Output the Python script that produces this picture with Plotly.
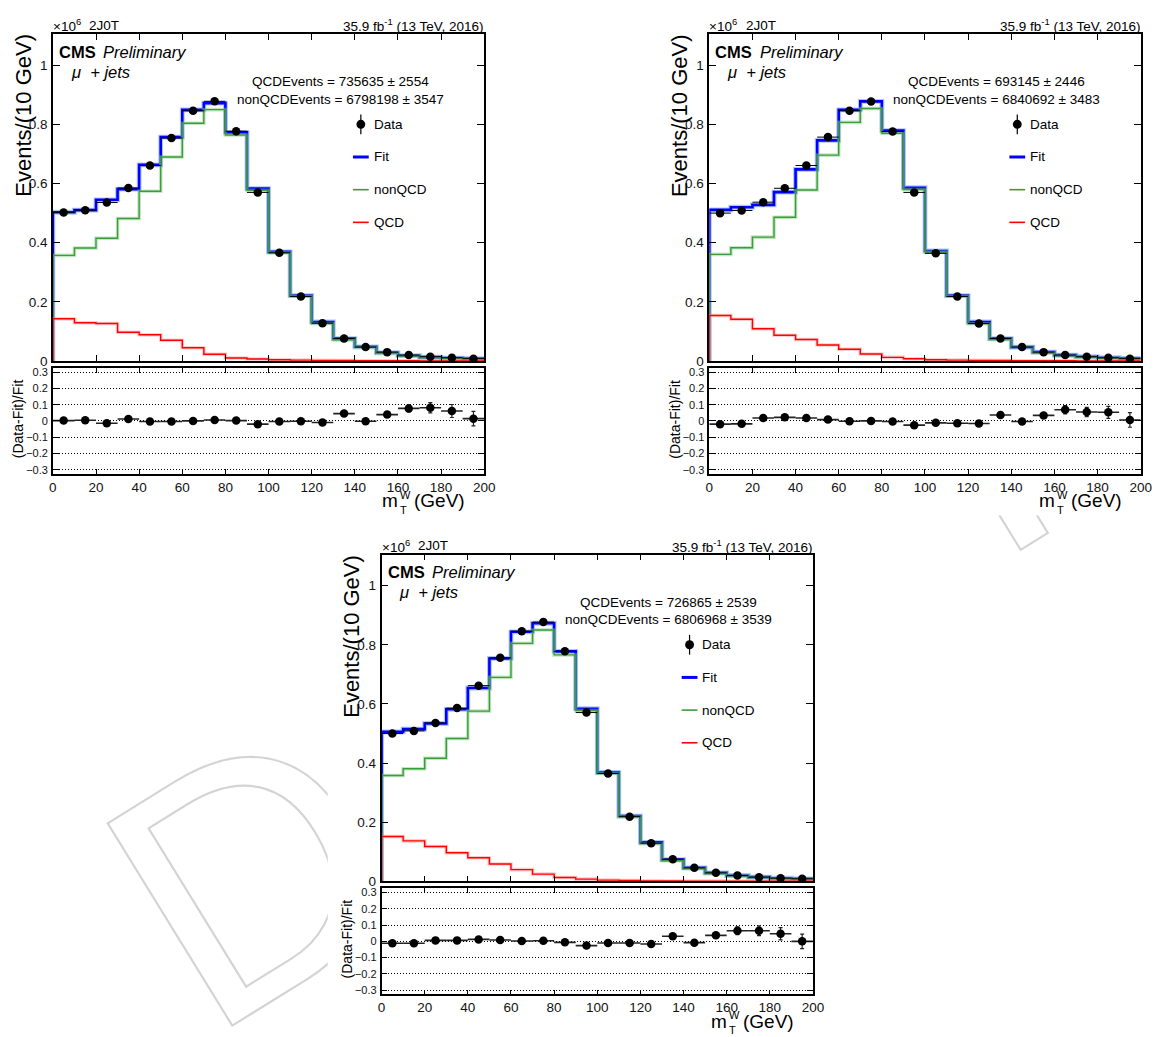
import base64
import plotly.graph_objects as go

# ---------------- data ----------------
bin_edges = [0, 10, 20, 30, 40, 50, 60, 70, 80, 90, 100, 110, 120, 130, 140, 150, 160, 170, 180, 190, 200]
bin_centers = [5, 15, 25, 35, 45, 55, 65, 75, 85, 95, 105, 115, 125, 135, 145, 155, 165, 175, 185, 195]
bin_halfwidth = [5] * 20

y_tickvals = [0, 0.2, 0.4, 0.6, 0.8, 1.0]
y_ticktext = ["0", "0.2", "0.4", "0.6", "0.8", "1"]
r_tickvals = [-0.3, -0.2, -0.1, 0, 0.1, 0.2, 0.3]
r_ticktext = ["\u22120.3", "\u22120.2", "\u22120.1", "0", "0.1", "0.2", "0.3"]
x_tickvals = [0, 20, 40, 60, 80, 100, 120, 140, 160, 180, 200]

# panel 1 (top left)
fit1 = [0.503, 0.510, 0.545, 0.581, 0.663, 0.757, 0.849, 0.872, 0.773, 0.583, 0.369, 0.221, 0.132, 0.076, 0.048, 0.028, 0.018, 0.013, 0.010, 0.008]
nonqcd1 = [0.357, 0.382, 0.415, 0.482, 0.574, 0.690, 0.804, 0.850, 0.764, 0.577, 0.366, 0.219, 0.127, 0.0715, 0.046, 0.026, 0.017, 0.012, 0.009, 0.0067]
qcd1 = [0.143, 0.1295, 0.127, 0.097, 0.089, 0.070, 0.045, 0.023, 0.010, 0.0067, 0.0045, 0.003, 0.002, 0.0015, 0.001, 0.001, 0.0008, 0.0006, 0.0005, 0.0004]
data1 = [0.5025, 0.510, 0.536, 0.585, 0.661, 0.754, 0.846, 0.878, 0.777, 0.570, 0.366, 0.218, 0.128, 0.076, 0.047, 0.030, 0.020, 0.0145, 0.011, 0.008]
ratio1 = [0.002, 0.004, -0.014, 0.012, -0.004, -0.004, 0.0, 0.006, 0.002, -0.020, -0.004, -0.002, -0.010, 0.045, -0.002, 0.039, 0.077, 0.081, 0.061, 0.014]
ratio_err1 = [0.004, 0.004, 0.004, 0.004, 0.004, 0.004, 0.004, 0.004, 0.004, 0.005, 0.006, 0.006, 0.007, 0.010, 0.010, 0.014, 0.022, 0.032, 0.040, 0.045]

# panel 2 (top right)
fit2 = [0.511, 0.520, 0.528, 0.571, 0.648, 0.746, 0.849, 0.878, 0.779, 0.586, 0.372, 0.221, 0.132, 0.076, 0.047, 0.030, 0.020, 0.0145, 0.011, 0.009]
nonqcd2 = [0.3607, 0.383, 0.419, 0.486, 0.578, 0.696, 0.807, 0.854, 0.770, 0.580, 0.3685, 0.219, 0.126, 0.0726, 0.046, 0.028, 0.018, 0.013, 0.010, 0.008]
qcd2 = [0.154, 0.141, 0.109, 0.087, 0.0726, 0.054, 0.040, 0.0235, 0.0123, 0.0078, 0.0045, 0.003, 0.002, 0.0015, 0.001, 0.001, 0.0008, 0.0006, 0.0005, 0.0004]
data2 = [0.500, 0.509, 0.537, 0.584, 0.661, 0.757, 0.846, 0.877, 0.776, 0.570, 0.364, 0.218, 0.127, 0.076, 0.047, 0.030, 0.020, 0.0145, 0.011, 0.008]
ratio2 = [-0.020, -0.018, 0.018, 0.022, 0.018, 0.008, -0.002, 0.0, -0.004, -0.026, -0.012, -0.014, -0.016, 0.036, -0.004, 0.034, 0.069, 0.055, 0.053, 0.006]
ratio_err2 = [0.004, 0.004, 0.004, 0.004, 0.004, 0.004, 0.004, 0.004, 0.004, 0.005, 0.006, 0.006, 0.007, 0.010, 0.010, 0.015, 0.026, 0.028, 0.037, 0.045]

# panel 3 (bottom centre)
fit3 = [0.506, 0.515, 0.534, 0.582, 0.654, 0.754, 0.844, 0.873, 0.778, 0.584, 0.3685, 0.221, 0.132, 0.0737, 0.046, 0.029, 0.020, 0.0145, 0.011, 0.009]
nonqcd3 = [0.358, 0.381, 0.4165, 0.4835, 0.576, 0.690, 0.805, 0.850, 0.766, 0.578, 0.365, 0.219, 0.128, 0.070, 0.0435, 0.027, 0.019, 0.0134, 0.010, 0.008]
qcd3 = [0.152, 0.137, 0.118, 0.097, 0.080, 0.059, 0.040, 0.0246, 0.0134, 0.0078, 0.0045, 0.003, 0.002, 0.0015, 0.001, 0.001, 0.0008, 0.0006, 0.0005, 0.0004]
data3 = [0.500, 0.509, 0.536, 0.586, 0.662, 0.756, 0.846, 0.877, 0.778, 0.571, 0.365, 0.219, 0.1295, 0.075, 0.046, 0.029, 0.020, 0.0145, 0.011, 0.009]
ratio3 = [-0.012, -0.012, 0.006, 0.006, 0.012, 0.008, 0.002, 0.004, -0.006, -0.026, -0.010, -0.010, -0.016, 0.031, -0.008, 0.037, 0.065, 0.065, 0.047, 0.0]
ratio_err3 = [0.004, 0.004, 0.004, 0.004, 0.004, 0.004, 0.004, 0.004, 0.004, 0.005, 0.006, 0.006, 0.007, 0.010, 0.010, 0.014, 0.024, 0.030, 0.038, 0.045]

qcd_texts = ["QCDEvents = 735635 \u00b1 2554", "QCDEvents = 693145 \u00b1 2446", "QCDEvents = 726865 \u00b1 2539"]
nonqcd_texts = ["nonQCDEvents = 6798198 \u00b1 3547", "nonQCDEvents = 6840692 \u00b1 3483", "nonQCDEvents = 6806968 \u00b1 3539"]
legend_labels = ["Data", "Fit", "nonQCD", "QCD"]
category_label = "2J0T"
lumi_label = "35.9 fb<sup>-1</sup> (13 TeV, 2016)"

# ---------------- layout geometry (pixels) ----------------
W, H = 1165, 1037
FONT = "Liberation Sans, Arial, Helvetica, sans-serif"
FW, MH, RT, RB = 437, 330, 337, 444
panel_origins = [(49.5, 32.5), (714.5, 32.5), (382.5, 558)]

BLUE = "#0000ff"
GREEN = "#3a9c3a"
RED = "#ff0000"


def X(p):
    return p / W


def Y(p):
    return 1 - p / H


def step_xy(vals):
    xs = [bin_edges[0]] + bin_edges
    ys = [0] + list(vals) + [vals[-1]]
    return xs, ys


fig = go.Figure()
annotations = []
shapes = []

panels = [
    (fit1, nonqcd1, qcd1, data1, ratio1, ratio_err1),
    (fit2, nonqcd2, qcd2, data2, ratio2, ratio_err2),
    (fit3, nonqcd3, qcd3, data3, ratio3, ratio_err3),
]

axis_common = dict(
    showline=True, linecolor="black", linewidth=1.5, mirror="ticks",
    ticks="inside", tickcolor="black", tickwidth=1, zeroline=False,
    tickfont=dict(family=FONT, size=13.5, color="#111"),
)

for k, (fit, nonqcd, qcd, data, ratio, rerr) in enumerate(panels):
    fx0, fy0 = panel_origins[k]
    m, r = 2 * k + 1, 2 * k + 2
    xm = "x" if m == 1 else f"x{m}"
    ym = "y" if m == 1 else f"y{m}"
    xr, yr = f"x{r}", f"y{r}"
    xdom = [X(fx0), X(fx0 + FW)]

    fig.layout[f"xaxis{'' if m == 1 else m}"] = dict(
        axis_common, domain=xdom, anchor=ym, range=[0, 200], tickvals=x_tickvals,
        showticklabels=False, ticklen=6, showgrid=False)
    fig.layout[f"yaxis{'' if m == 1 else m}"] = dict(
        axis_common, domain=[Y(fy0 + MH), Y(fy0)], anchor=xm, range=[0, 1.105],
        tickvals=y_tickvals, ticktext=y_ticktext, ticklen=7, showgrid=False,
        ticklabelstandoff=1)
    fig.layout[f"xaxis{r}"] = dict(
        axis_common, domain=xdom, anchor=yr, range=[0, 200], tickvals=x_tickvals,
        ticklen=5, showgrid=False, ticklabelstandoff=0)
    fig.layout[f"yaxis{r}"] = dict(
        axis_common, domain=[Y(fy0 + RB), Y(fy0 + RT)], anchor=xr, range=[-0.326, 0.326],
        tickvals=r_tickvals, ticktext=r_ticktext, ticklen=6, showgrid=True,
        gridcolor="black", gridwidth=1, griddash="1px,2px",
        tickfont=dict(family=FONT, size=11, color="#111"), ticklabelstandoff=1)

    # histograms
    for vals, col, wd, halo in [(fit, BLUE, 2.6, "rgba(110,150,255,0.55)"),
                                (nonqcd, GREEN, 1.4, "rgba(120,200,120,0.45)"),
                                (qcd, RED, 1.4, "rgba(255,140,140,0.45)")]:
        xs, ys = step_xy(vals)
        fig.add_trace(go.Scatter(x=xs, y=ys, xaxis=xm, yaxis=ym, mode="lines",
                                 line=dict(color=halo, width=wd + 2.2, shape="hv"),
                                 hoverinfo="skip", showlegend=False))
        fig.add_trace(go.Scatter(x=xs, y=ys, xaxis=xm, yaxis=ym, mode="lines",
                                 line=dict(color=col, width=wd, shape="hv"),
                                 showlegend=False))
    # data
    fig.add_trace(go.Scatter(
        x=bin_centers, y=data, xaxis=xm, yaxis=ym, mode="markers",
        marker=dict(color="black", size=8.5),
        error_x=dict(type="data", array=bin_halfwidth, color="black", thickness=1, width=0),
        showlegend=False))
    # ratio
    fig.add_trace(go.Scatter(
        x=bin_centers, y=ratio, xaxis=xr, yaxis=yr, mode="markers",
        marker=dict(color="black", size=8.5),
        error_x=dict(type="data", array=bin_halfwidth, color="#222", thickness=1.6, width=0),
        error_y=dict(type="data", array=rerr, color="#222", thickness=1.2, width=2),
        showlegend=False))

    def ann(x, y, text, size, xanchor="left", yanchor="middle", angle=0, color="black"):
        annotations.append(dict(
            x=X(x), y=Y(y), xref="paper", yref="paper", text=text, showarrow=False,
            xanchor=xanchor, yanchor=yanchor, textangle=angle,
            font=dict(family=FONT, size=size, color=color), borderpad=0))

    # header texts
    ann(fx0 - 1, fy0 - 9, "\u00d710<sup>6</sup>", 13.5)
    ann(fx0 + 36, fy0 - 9, category_label, 13.5)
    ann(fx0 + FW + 1, fy0 - 9, lumi_label, 13.5, xanchor="right")
    ann(fx0 + 5, fy0 + 18, "<b>CMS</b>", 16.5)
    ann(fx0 + 50, fy0 + 18, "<i>Preliminary</i>", 16.5)
    ann(fx0 + 17, fy0 + 38, "<i>\u03bc  + jets</i>", 16.5)
    ann(fx0 + 291, fy0 + 48, qcd_texts[k], 13.5, xanchor="center")
    ann(fx0 + 291, fy0 + 66, nonqcd_texts[k], 13.5, xanchor="center")

    # legend
    ly = [fy0 + 91, fy0 + 124, fy0 + 157, fy0 + 190]
    for lab, yy in zip(legend_labels, ly):
        ann(fx0 + 324, yy, lab, 13.5)
    cx = fx0 + 312
    shapes.append(dict(type="line", xref="paper", yref="paper", x0=X(cx), x1=X(cx),
                       y0=Y(ly[0] - 10), y1=Y(ly[0] + 10), line=dict(color="black", width=1.2)))
    shapes.append(dict(type="circle", xref="paper", yref="paper", x0=X(cx - 4.5), x1=X(cx + 4.5),
                       y0=Y(ly[0] + 4.5), y1=Y(ly[0] - 4.5), fillcolor="black", line=dict(color="black", width=0)))
    for yy, col, wd in [(ly[1], BLUE, 3), (ly[2], GREEN, 1.6), (ly[3], RED, 1.6)]:
        shapes.append(dict(type="line", xref="paper", yref="paper", x0=X(fx0 + 304), x1=X(fx0 + 320),
                           y0=Y(yy), y1=Y(yy), line=dict(color=col, width=wd)))

    # axis titles
    ann(fx0 - 30, fy0 + 82, "Events/(10 GeV)", 22, xanchor="center", angle=-90)
    ann(fx0 - 35, fy0 + (RT + RB) / 2 - 2, "(Data-Fit)/Fit", 14, xanchor="center", angle=-90)
    ann(fx0 + 351, fy0 + 471, "m", 19, xanchor="right")
    ann(fx0 + 351, fy0 + 465, "W", 11)
    ann(fx0 + 351, fy0 + 480, "T", 11)
    ann(fx0 + 419, fy0 + 471, "(GeV)", 19, xanchor="right")

# faint "DRAFT" watermark: only the parts not hidden behind the canvas pads are visible
svg = (
    '<svg xmlns="http://www.w3.org/2000/svg" width="1165" height="1037" viewBox="0 0 1165 1037">'
    '<defs><clipPath id="c"><rect x="0" y="520" width="328" height="517"/>'
    '<rect x="840" y="518.5" width="325" height="518.5"/></clipPath></defs>'
    '<g clip-path="url(#c)" fill="none" stroke="#d4d4d4" stroke-width="2.2" '
    'font-family="Liberation Sans, Arial, sans-serif" font-size="349">'
    '<text x="206.9" y="1048.6" transform="rotate(-31.7 206.9 1048.6)">D</text>'
    '<text x="953.1" y="600.6" transform="rotate(-31.7 953.1 600.6)">T</text>'
    '</g></svg>'
)
src = "data:image/svg+xml;base64," + base64.b64encode(svg.encode()).decode()

fig.update_layout(
    width=W, height=H, autosize=False,
    margin=dict(l=0, r=0, t=0, b=0, pad=0),
    paper_bgcolor="white", plot_bgcolor="white",
    showlegend=False,
    annotations=annotations, shapes=shapes,
    images=[dict(source=src, xref="paper", yref="paper", x=0, y=1,
                 sizex=1, sizey=1, xanchor="left", yanchor="top",
                 sizing="stretch", layer="below")],
    font=dict(family=FONT),
)

fig.write_html("out.html", config={"displayModeBar": False},
               post_script="document.body.style.margin='0';document.body.style.padding='0';")
